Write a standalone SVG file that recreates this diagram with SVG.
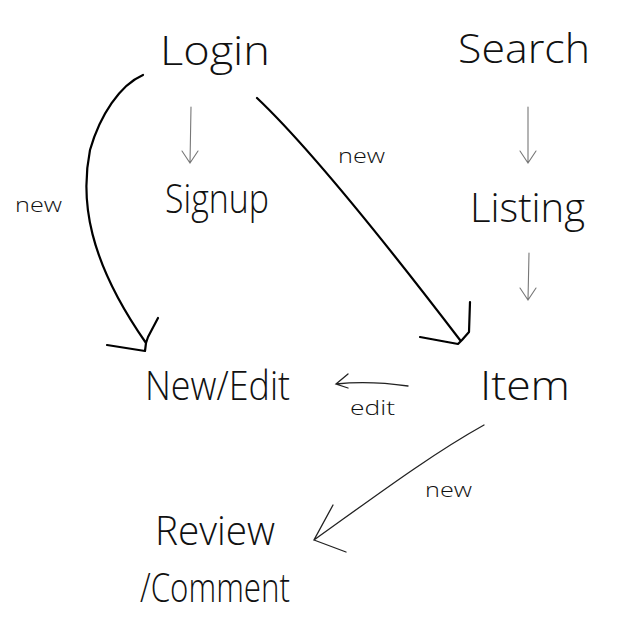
<svg xmlns="http://www.w3.org/2000/svg" width="630" height="630" viewBox="0 0 630 630">
<style>
.node text{font-family:"Open Sans","Liberation Sans",sans-serif;font-weight:300;fill:#111;}
.big{font-size:40px;}
.lbl{font-family:"Open Sans","Liberation Sans",sans-serif;font-weight:300;font-size:21px;fill:#111;}
.thick{fill:none;stroke:#000;stroke-width:2.2;stroke-linecap:round;stroke-linejoin:round;}
.thin{fill:none;stroke:#777;stroke-width:1.1;stroke-linecap:round;}
.med{fill:none;stroke:#222;stroke-width:1.3;stroke-linecap:round;}
</style>
<rect width="630" height="630" fill="#fff"/>
<g id="connectors">
<path class="thin" d="M191,107 L190,163 M182,151 L190,163 L198,151"/>
<path class="thin" d="M528,107 L528,163 M520,151 L528,163 L536,151"/>
<path class="thin" d="M529,253 L528,300 M520,288 L528,300 L536,288"/>
<path class="thick" d="M143,75 C120,85 100,115 90,150 C80,200 88,260 146,343 M107,345 L145,351 L146,343 M158,318 L148,337 L146,343"/>
<path class="thick" d="M257,98 C275,115 330,170 460,340 M420,337 L458,344 L462,340 M470,302 L469,332 L462,340"/>
<text class="lbl" x="15" y="212" textLength="47" lengthAdjust="spacingAndGlyphs">new</text>
<text class="lbl" x="338" y="163" textLength="47" lengthAdjust="spacingAndGlyphs">new</text>
<path class="med" d="M408,386 C380,382 355,382 336,384 M348,374 L336,384 L348,388"/>
<text class="lbl" x="350" y="415" textLength="45" lengthAdjust="spacingAndGlyphs">edit</text>
<path class="med" d="M484,425 C430,455 370,500 314,540 M333,505 L314,540 L346,552"/>
<text class="lbl" x="425" y="497" textLength="47" lengthAdjust="spacingAndGlyphs">new</text>
</g>
<g id="login" class="node"><text class="big" x="160" y="65" textLength="110" lengthAdjust="spacingAndGlyphs">Login</text></g>
<g id="search" class="node"><text class="big" x="458" y="63" textLength="132" lengthAdjust="spacingAndGlyphs">Search</text></g>
<g id="signup" class="node"><text class="big" x="165" y="213" textLength="104" lengthAdjust="spacingAndGlyphs">Signup</text></g>
<g id="listing" class="node"><text class="big" x="470" y="222" textLength="115" lengthAdjust="spacingAndGlyphs">Listing</text></g>
<g id="newedit" class="node"><text class="big" x="145" y="400" textLength="145" lengthAdjust="spacingAndGlyphs">New/Edit</text></g>
<g id="item" class="node"><text class="big" x="480" y="400" textLength="90" lengthAdjust="spacingAndGlyphs">Item</text></g>
<g id="review" class="node"><text class="big" x="155" y="545" textLength="120" lengthAdjust="spacingAndGlyphs">Review</text><text class="big" x="140" y="602" textLength="150" lengthAdjust="spacingAndGlyphs">/Comment</text></g>
</svg>
